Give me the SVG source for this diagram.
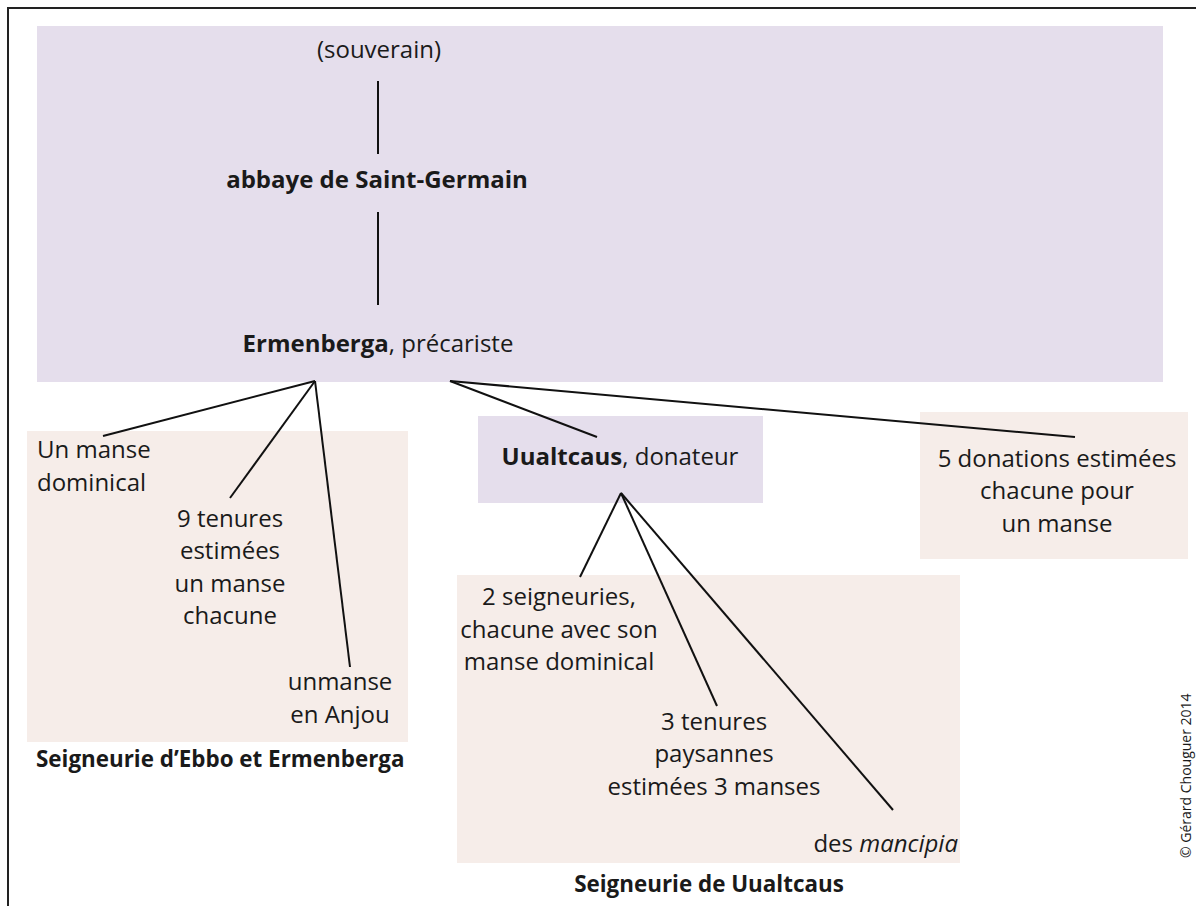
<svg xmlns="http://www.w3.org/2000/svg" width="1196" height="906" viewBox="0 0 1196 906">
<style>
.t{font-family:"Open Sans","Noto Sans","Liberation Sans",sans-serif;font-size:24px;fill:#1a1a1a}
.b{font-weight:bold}
.cap{font-size:22.4px;font-weight:bold}
.m{text-anchor:middle}
.p{fill:#e5deec}
.s{fill:#f6ede9}
.c line{stroke:#111;stroke-width:2}
</style>
<rect width="1196" height="906" fill="#fff"/>
<rect x="8" y="8" width="1200" height="910" fill="none" stroke="#222" stroke-width="2"/>
<g id="main"><rect class="p" x="37" y="26" width="1126" height="356"/>
<text class="t m" x="379" y="58">(souverain)</text>
<text class="t b m" x="377" y="188">abbaye de Saint-Germain</text>
<text class="t m" x="378" y="352"><tspan class="b">Ermenberga</tspan>, précariste</text></g>
<g id="ebbo"><rect class="s" x="27" y="431" width="381" height="311"/>
<text class="t" x="37" y="458">Un manse</text>
<text class="t" x="37" y="491">dominical</text>
<text class="t m" x="230" y="527">9 tenures</text>
<text class="t m" x="230" y="559">estimées</text>
<text class="t m" x="230" y="592">un manse</text>
<text class="t m" x="230" y="624">chacune</text>
<text class="t m" x="340" y="690">unmanse</text>
<text class="t m" x="340" y="723">en Anjou</text>
<text class="t cap" x="36" y="767">Seigneurie d’Ebbo et Ermenberga</text></g>
<g id="uualtcaus"><rect class="p" x="478" y="416" width="285" height="87"/>
<text class="t m" x="620" y="465"><tspan class="b">Uualtcaus</tspan>, donateur</text></g>
<g id="seign-uualtcaus"><rect class="s" x="457" y="575" width="503" height="288"/>
<text class="t m" x="559" y="605">2 seigneuries,</text>
<text class="t m" x="559" y="638">chacune avec son</text>
<text class="t m" x="559" y="670">manse dominical</text>
<text class="t m" x="714" y="730">3 tenures</text>
<text class="t m" x="714" y="762">paysannes</text>
<text class="t m" x="714" y="795">estimées 3 manses</text>
<text class="t" x="958" y="852" text-anchor="end">des <tspan font-style="italic">mancipia</tspan></text>
<text class="t cap m" x="709" y="892">Seigneurie de Uualtcaus</text></g>
<g id="donations"><rect class="s" x="920" y="412" width="268" height="147"/>
<text class="t m" x="1057" y="467">5 donations estimées</text>
<text class="t m" x="1057" y="499">chacune pour</text>
<text class="t m" x="1057" y="532">un manse</text></g>
<g class="c" id="connectors">
<line x1="378" y1="81" x2="378" y2="154"/>
<line x1="378" y1="212" x2="378" y2="305"/>
<line x1="315" y1="381" x2="103" y2="436"/>
<line x1="315" y1="381" x2="230" y2="498"/>
<line x1="315" y1="381" x2="350" y2="667"/>
<line x1="450" y1="381" x2="597" y2="437"/>
<line x1="450" y1="381" x2="1075" y2="437"/>
<line x1="621" y1="493" x2="580" y2="577"/>
<line x1="621" y1="493" x2="717" y2="706"/>
<line x1="621" y1="493" x2="893" y2="810"/>
</g>
<text class="t" x="0" y="0" style="font-size:14px" transform="translate(1191 858) rotate(-90)">© Gérard Chouguer 2014</text>
</svg>
